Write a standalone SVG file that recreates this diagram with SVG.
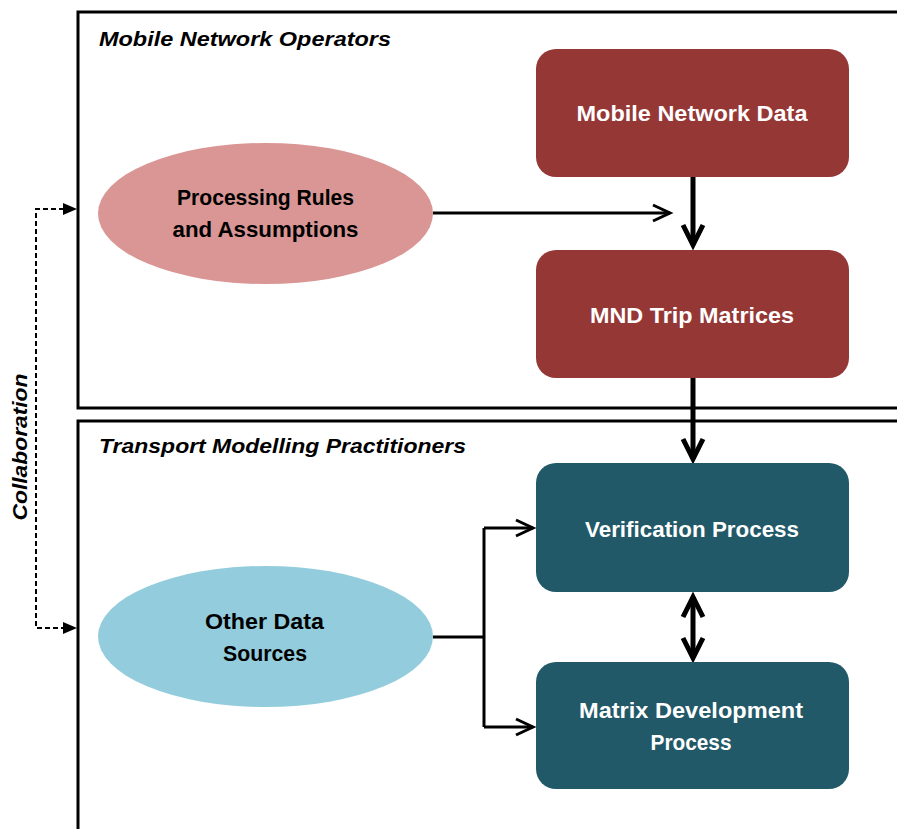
<svg xmlns="http://www.w3.org/2000/svg" width="897" height="829" viewBox="0 0 897 829">
  <style>
    .frame { fill: none; stroke: #000; stroke-width: 3; }
    .title { font-family: "Liberation Sans", Arial, sans-serif; font-size: 21px; font-weight: bold; font-style: italic; fill: #000; }
    .box-red { fill: #953735; }
    .box-teal { fill: #215968; }
    .ell-pink { fill: #D99694; }
    .ell-blue { fill: #93CDDD; }
    .lbl { font-family: "Liberation Sans", Arial, sans-serif; font-size: 22px; font-weight: bold; text-anchor: middle; }
    .lbl-w { fill: #fff; }
    .lbl-k { fill: #000; }
    .thick { fill: none; stroke: #000; stroke-width: 5; }
    .thin { fill: none; stroke: #000; stroke-width: 3; }
    .dash { fill: none; stroke: #000; stroke-width: 2; stroke-dasharray: 5 3; }
  </style>
  <defs>
    <marker id="chev-thick" markerUnits="userSpaceOnUse" orient="auto-start-reverse" overflow="visible" refX="0" refY="0" markerWidth="30" markerHeight="30">
      <path d="M-20,-10 L0,0 L-20,10" fill="none" stroke="#000" stroke-width="5" stroke-linejoin="miter"/>
    </marker>
    <marker id="chev-thin" markerUnits="userSpaceOnUse" orient="auto" overflow="visible" refX="0" refY="0" markerWidth="24" markerHeight="24">
      <path d="M-17,-8 L0,0 L-17,8" fill="none" stroke="#000" stroke-width="3" stroke-linejoin="miter"/>
    </marker>
    <marker id="tri" markerUnits="userSpaceOnUse" orient="auto" overflow="visible" refX="0" refY="0" markerWidth="16" markerHeight="14">
      <path d="M-14,-6 L0,0 L-14,6 Z" fill="#000"/>
    </marker>
  </defs>

  <!-- swimlane frames -->
  <g id="lane-operators">
    <path class="frame" d="M900,12 H78 V408 H900"/>
    <text class="title" x="99" y="46" textLength="292" lengthAdjust="spacingAndGlyphs">Mobile Network Operators</text>
  </g>
  <g id="lane-practitioners">
    <path class="frame" d="M900,421 H78 V832"/>
    <text class="title" x="99" y="453" textLength="367" lengthAdjust="spacingAndGlyphs">Transport Modelling Practitioners</text>
  </g>

  <!-- connectors -->
  <g id="connectors">
    <line class="thick" x1="693" y1="177" x2="693" y2="245" marker-end="url(#chev-thick)"/>
    <line class="thin" x1="433" y1="213" x2="670" y2="213" marker-end="url(#chev-thin)"/>
    <line class="thick" x1="693" y1="378" x2="693" y2="459" marker-end="url(#chev-thick)"/>
    <line class="thick" x1="693" y1="597" x2="693" y2="658" marker-start="url(#chev-thick)" marker-end="url(#chev-thick)"/>
    <path class="thin" d="M433,637 H484"/>
    <path class="thin" d="M484,727 V528"/>
    <line class="thin" x1="484" y1="528" x2="533" y2="528" marker-end="url(#chev-thin)"/>
    <line class="thin" x1="484" y1="727" x2="533" y2="727" marker-end="url(#chev-thin)"/>
    <path class="dash" d="M64,209 H36 V628 H64"/>
    <line x1="60" y1="209" x2="77" y2="209" stroke="none" marker-end="url(#tri)"/>
    <line x1="60" y1="628" x2="77" y2="628" stroke="none" marker-end="url(#tri)"/>
    <text class="title" transform="translate(27,447) rotate(-90)" x="0" y="0" text-anchor="middle" textLength="147" lengthAdjust="spacingAndGlyphs">Collaboration</text>
  </g>

  <!-- nodes -->
  <g id="mobile-network-data">
    <rect class="box-red" x="536" y="49" width="313" height="128" rx="20"/>
    <text class="lbl lbl-w" x="692" y="121" textLength="231" lengthAdjust="spacingAndGlyphs">Mobile Network Data</text>
  </g>
  <g id="processing-rules">
    <ellipse class="ell-pink" cx="265.5" cy="213.5" rx="167.5" ry="70.5"/>
    <text class="lbl lbl-k" x="265.5" y="205" textLength="177" lengthAdjust="spacingAndGlyphs">Processing Rules</text>
    <text class="lbl lbl-k" x="265.5" y="237" textLength="186" lengthAdjust="spacingAndGlyphs">and Assumptions</text>
  </g>
  <g id="mnd-trip-matrices">
    <rect class="box-red" x="536" y="250" width="313" height="128" rx="20"/>
    <text class="lbl lbl-w" x="692" y="323" textLength="204" lengthAdjust="spacingAndGlyphs">MND Trip Matrices</text>
  </g>
  <g id="verification-process">
    <rect class="box-teal" x="536" y="463" width="313" height="129" rx="20"/>
    <text class="lbl lbl-w" x="692" y="537" textLength="214" lengthAdjust="spacingAndGlyphs">Verification Process</text>
  </g>
  <g id="matrix-development">
    <rect class="box-teal" x="536" y="662" width="313" height="127" rx="20"/>
    <text class="lbl lbl-w" x="691" y="718" textLength="224" lengthAdjust="spacingAndGlyphs">Matrix Development</text>
    <text class="lbl lbl-w" x="691" y="750" textLength="81" lengthAdjust="spacingAndGlyphs">Process</text>
  </g>
  <g id="other-data-sources">
    <ellipse class="ell-blue" cx="265.5" cy="636.5" rx="167.5" ry="70.5"/>
    <text class="lbl lbl-k" x="264.5" y="629" textLength="119" lengthAdjust="spacingAndGlyphs">Other Data</text>
    <text class="lbl lbl-k" x="265" y="661" textLength="84" lengthAdjust="spacingAndGlyphs">Sources</text>
  </g>
</svg>
